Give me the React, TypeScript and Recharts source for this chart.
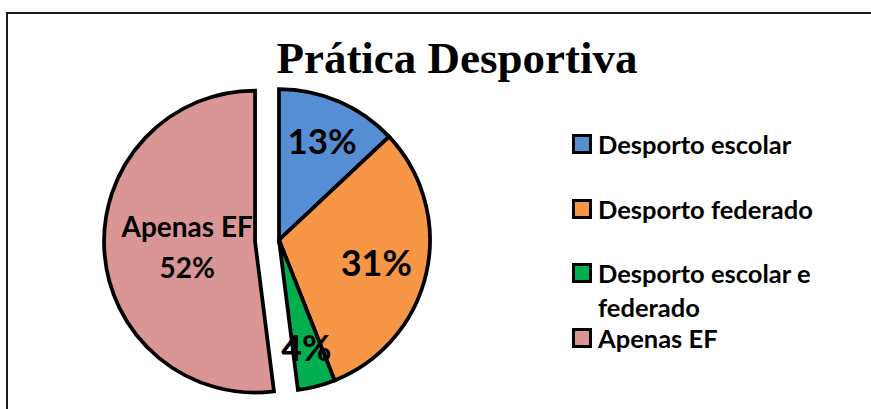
import React from "react";
import { PieChart, Pie, Cell, Legend } from "recharts";

const categories = ["Desporto escolar", "Desporto federado", "Desporto escolar e federado", "Apenas EF"];
const values = [13, 31, 4, 52];
const colors = ["#558ED5", "#F79646", "#00B050", "#D99694"];
const legendLines = [["Desporto escolar"], ["Desporto federado"], ["Desporto escolar e", "federado"], ["Apenas EF"]];
const title = "Prática Desportiva";
const explodedIndex = 3;

const data = categories.map((name, i) => ({ name, value: values[i] }));

const W = 871;
const H = 409;
const CX = 279;
const CY = 240;
const R = 151;
const EXPLODE = 24;
const STROKE = 3.75;

// mid angle of the exploded slice (recharts convention: degrees, ccw from east, start 90, clockwise)
const total = values.reduce((a, b) => a + b, 0);
const before = values.slice(0, explodedIndex).reduce((a, b) => a + b, 0);
const startA = 90 - (before / total) * 360;
const endA = 90 - ((before + values[explodedIndex]) / total) * 360;
const midA = ((startA + endA) / 2) * (Math.PI / 180);
const ECX = CX + EXPLODE * Math.cos(midA);
const ECY = CY - EXPLODE * Math.sin(midA);

const labelFont = "Lato, 'Open Sans', sans-serif";
const radiusFactor = [0.72, 0.66, 0.73, 0.45];
const labelSize = [35, 36, 36, 28];

const RAD = Math.PI / 180;

function makeLabel(show: (i: number) => boolean) {
  return (props: any) => {
    const { cx, cy, midAngle, outerRadius, index } = props;
    if (!show(index)) return null;
    const r = outerRadius * radiusFactor[index];
    const x = cx + r * Math.cos(-midAngle * RAD);
    const y = cy + r * Math.sin(-midAngle * RAD);
    const pct = `${values[index]}%`;
    if (index === explodedIndex) {
      return (
        <text
          x={x}
          y={y}
          textAnchor="middle"
          fontFamily={labelFont}
          fontWeight={700}
          fontSize={labelSize[index]}
          fill="#000"
        >
          <tspan x={x} y={y - 20} dominantBaseline="central">{categories[index]}</tspan>
          <tspan x={x} y={y + 21} dominantBaseline="central">{pct}</tspan>
        </text>
      );
    }
    return (
      <text
        x={x}
        y={y}
        textAnchor="middle"
        dominantBaseline="central"
        fontFamily={labelFont}
        fontWeight={700}
        fontSize={labelSize[index]}
        fill="#000"
      >
        {pct}
      </text>
    );
  };
}

const legendYs = [[144], [209], [273, 307], [338]];

function renderLegend() {
  return (
    <svg width={300} height={260} style={{ display: "block" }}>
      {legendLines.map((lines, i) => {
        const ys = legendYs[i].map((y) => y - 110);
        return (
          <g key={i}>
            <rect x={3.5} y={ys[0] - 8.5} width={17} height={17} fill={colors[i]} stroke="#000" strokeWidth={3} />
            {lines.map((ln, j) => (
              <text
                key={j}
                x={28}
                y={ys[j]}
                dominantBaseline="central"
                fontFamily={labelFont}
                fontWeight={700}
                fontSize={25.5}
                fill="#000"
              >
                {ln}
              </text>
            ))}
          </g>
        );
      })}
    </svg>
  );
}

export default function App() {
  return (
    <div style={{ position: "absolute", left: 0, top: 0, width: W, height: H, overflow: "hidden", background: "#fff" }}>
      <div
        style={{
          position: "absolute",
          left: 6,
          top: 12,
          width: W + 20,
          height: H + 20,
          border: "2px solid #1a1a1a",
          boxSizing: "border-box",
        }}
      />
      <svg width={W} height={H} style={{ position: "absolute", left: 0, top: 0 }}>
        <text
          x={457}
          y={73}
          textAnchor="middle"
          fontFamily="'Liberation Serif', serif"
          fontWeight={700}
          fontSize={45}
          fill="#000"
        >
          {title}
        </text>
      </svg>
      <div style={{ position: "absolute", left: 0, top: 0 }}>
        <PieChart width={W} height={H} margin={{ top: 0, right: 0, bottom: 0, left: 0 }}>
          <Pie
            data={data}
            dataKey="value"
            nameKey="name"
            cx={ECX}
            cy={ECY}
            outerRadius={R}
            startAngle={90}
            endAngle={-270}
            isAnimationActive={false}
            labelLine={false}
            label={makeLabel((i) => i === explodedIndex)}
            legendType="none"
          >
            {data.map((d, i) => (
              <Cell
                key={i}
                fill={i === explodedIndex ? colors[i] : "none"}
                stroke={i === explodedIndex ? "#000" : "none"}
                strokeWidth={STROKE}
              />
            ))}
          </Pie>
          <Pie
            data={data}
            dataKey="value"
            nameKey="name"
            cx={CX}
            cy={CY}
            outerRadius={R}
            startAngle={90}
            endAngle={-270}
            isAnimationActive={false}
            labelLine={false}
            label={makeLabel((i) => i !== explodedIndex)}
          >
            {data.map((d, i) => (
              <Cell
                key={i}
                fill={i === explodedIndex ? "none" : colors[i]}
                stroke={i === explodedIndex ? "none" : "#000"}
                strokeWidth={STROKE}
              />
            ))}
          </Pie>
          <Legend
            content={renderLegend}
            wrapperStyle={{ position: "absolute", left: 570, top: 110, width: 300, height: 260 }}
          />
        </PieChart>
      </div>
    </div>
  );
}
